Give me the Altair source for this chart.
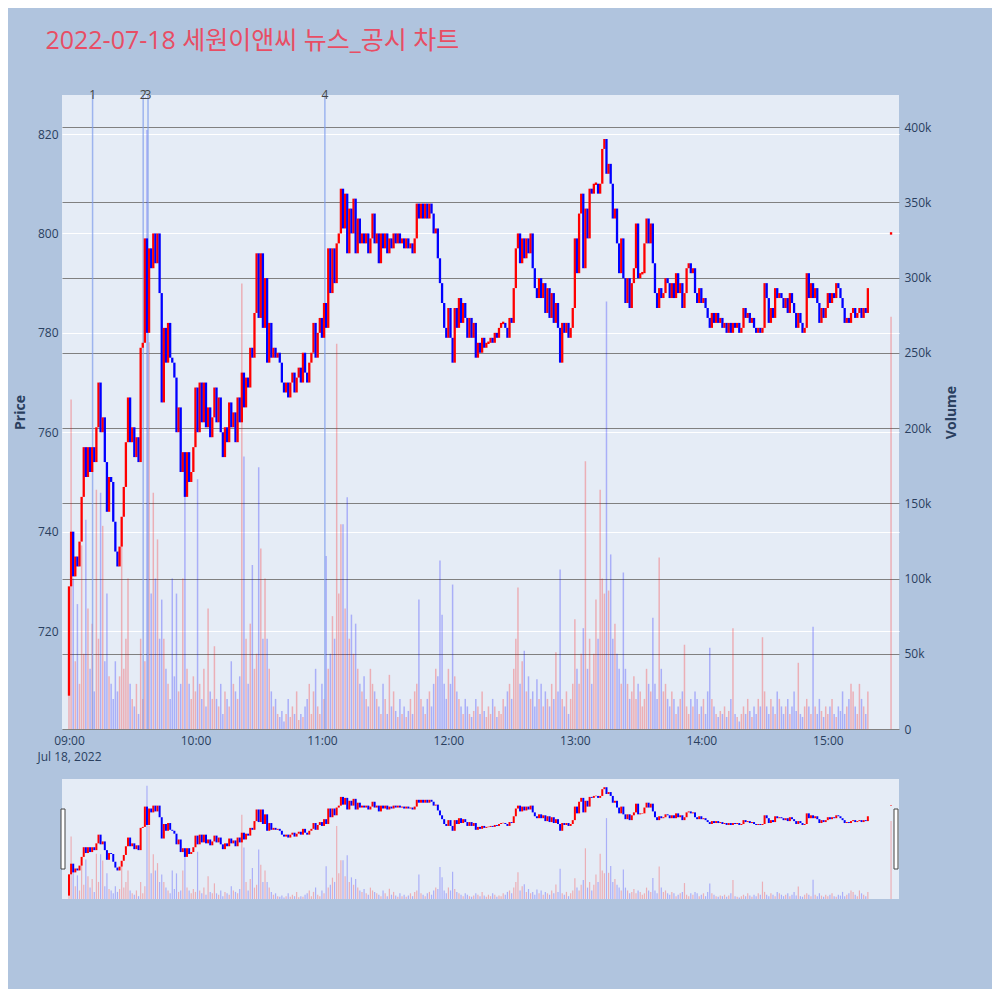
import altair as alt
import pandas as pd

# ---- data (1-minute candles from 09:00) ----
first_open = 707
closes = [
    729, 740, 731, 735, 733, 738, 747, 757, 751, 757,
    752, 757, 754, 761, 770, 760, 763, 754, 744, 751,
    750, 742, 736, 733, 737, 743, 749, 758, 767, 758,
    761, 755, 759, 754, 777, 778, 799, 780, 797, 793,
    800, 794, 800, 788, 766, 781, 774, 782, 775, 774,
    771, 760, 765, 752, 756, 747, 756, 750, 752, 757,
    769, 760, 770, 762, 770, 761, 765, 759, 763, 769,
    762, 767, 760, 755, 761, 758, 766, 761, 764, 758,
    767, 762, 772, 765, 771, 769, 777, 775, 784, 796,
    783, 796, 781, 791, 774, 782, 775, 777, 775, 776,
    774, 770, 768, 770, 767, 770, 772, 768, 771, 773,
    770, 776, 772, 770, 774, 776, 782, 775, 780, 783,
    779, 786, 781, 797, 788, 797, 790, 798, 800, 809,
    801, 808, 796, 805, 800, 807, 796, 803, 798, 800,
    798, 800, 796, 799, 804, 798, 800, 794, 800, 797,
    800, 796, 799, 797, 800, 798, 800, 798, 799, 797,
    799, 797, 798, 796, 799, 806, 803, 806, 803, 806,
    803, 806, 804, 800, 801, 795, 790, 786, 781, 779,
    785, 779, 774, 785, 781, 787, 782, 786, 783, 779,
    783, 779, 782, 775, 778, 776, 779, 777, 778, 778,
    779, 778, 780, 779, 781, 782, 782, 781, 779, 783,
    782, 789, 797, 800, 794, 799, 795, 799, 796, 800,
    793, 789, 787, 791, 787, 790, 784, 789, 783, 788,
    782, 786, 781, 774, 782, 780, 782, 779, 781, 785,
    799, 792, 804, 808, 793, 805, 799, 809, 808, 810,
    810, 808, 810, 817, 819, 812, 814, 810, 803, 805,
    798, 792, 799, 791, 786, 791, 785, 790, 793, 802,
    791, 792, 792, 798, 803, 798, 802, 794, 788, 785,
    789, 787, 788, 791, 790, 787, 790, 787, 792, 788,
    790, 785, 788, 793, 794, 792, 793, 788, 786, 789,
    786, 787, 785, 783, 781, 784, 782, 784, 782, 783,
    781, 782, 780, 782, 780, 782, 781, 782, 780, 781,
    785, 783, 784, 782, 783, 781, 780, 781, 780, 781,
    790, 787, 782, 785, 783, 789, 787, 788, 787, 785,
    787, 784, 788, 786, 784, 781, 784, 782, 780, 781,
    792, 787, 790, 787, 789, 786, 782, 785, 783, 785,
    788, 786, 788, 787, 790, 789, 787, 785, 782, 783,
    782, 784, 785, 783, 784, 785, 783, 785, 784, 789,
]
volumes_k = [
    60, 219, 100, 45, 83, 30, 122, 50, 139, 80,
    40, 70, 25, 159, 60, 157, 135, 45, 90, 35,
    30, 20, 45, 25, 35, 122, 40, 60, 100, 30,
    20, 15, 30, 10, 60, 20, 45, 398, 257, 90,
    157, 100, 126, 60, 86, 60, 40, 30, 20, 100,
    35, 90, 25, 30, 100, 172, 40, 30, 20, 35,
    25, 166, 30, 20, 40, 15, 80, 25, 20, 55,
    20, 15, 30, 10, 25, 20, 15, 45, 30, 25,
    20, 35, 296, 181, 60, 30, 70, 109, 40, 50,
    174, 120, 60, 100, 60, 40, 25, 15, 20, 10,
    8, 12, 5, 10, 20, 8, 15, 10, 25, 6,
    10, 8, 15, 20, 30, 10, 25, 40, 15, 10,
    30, 20, 115, 40, 50, 75, 60, 256, 90, 136,
    136, 80, 154, 60, 76, 50, 70, 40, 30, 25,
    35, 20, 15, 40, 30, 25, 20, 15, 10, 30,
    20, 10, 36, 15, 25, 12, 8, 20, 10, 15,
    8, 12, 20, 10, 25, 30, 86, 20, 15, 10,
    20, 25, 15, 30, 40, 35, 112, 76, 30, 20,
    40, 30, 96, 35, 25, 20, 15, 10, 20, 15,
    10, 8, 12, 20, 15, 10, 25, 12, 8, 15,
    10, 20, 15, 8, 12, 10, 20, 15, 25, 30,
    20, 40, 60, 94, 30, 45, 52, 25, 35, 20,
    25, 15, 33, 20, 30, 15, 25, 20, 15, 30,
    20, 51, 25, 106, 20, 15, 25, 10, 20, 30,
    73, 40, 30, 50, 67, 178, 40, 60, 30, 50,
    86, 60, 159, 100, 90, 284, 92, 116, 60, 70,
    50, 40, 30, 104, 40, 30, 20, 25, 35, 20,
    30, 25, 15, 20, 40, 30, 25, 74, 30, 20,
    114, 40, 25, 30, 20, 15, 25, 20, 10, 15,
    20, 25, 56, 15, 10, 20, 15, 25, 20, 10,
    15, 20, 10, 25, 54, 20, 15, 10, 8, 12,
    10, 15, 8, 12, 20, 67, 10, 8, 5, 10,
    15, 10, 20, 12, 8, 15, 10, 20, 15, 61,
    25, 15, 10, 20, 15, 10, 25, 20, 15, 10,
    15, 20, 10, 15, 25, 12, 44, 10, 8, 15,
    20, 15, 10, 68, 15, 10, 20, 12, 8, 15,
    10, 15, 20, 10, 8, 15, 12, 25, 10, 15,
    20, 30, 25, 15, 10, 30, 20, 15, 10, 25,
]
auction_minute = 390
auction_price = 800
auction_volume_k = 274

news_minutes = [11.2, 35.2, 37.5, 121.4]
news_labels = ["1", "2", "3", "4"]

price_ticks = [720, 740, 760, 780, 800, 820]
volume_ticks = [0, 50000, 100000, 150000, 200000, 250000, 300000, 350000, 400000]
time_ticks = [0, 60, 120, 180, 240, 300, 360]

TITLE = "2022-07-18 세원이앤씨 뉴스_공시 차트"

# ---- build table ----
minutes = list(range(len(closes))) + [auction_minute]
close_all = closes + [auction_price]
open_all = [first_open] + closes[:-1] + [auction_price]
vol_all = volumes_k + [auction_volume_k]
rows = []
for m, o, c, v in zip(minutes, open_all, close_all, vol_all):
    lo, hi = min(o, c), max(o, c)
    if hi - lo < 0.5:
        mid = (lo + hi) / 2
        lo, hi = mid - 0.25, mid + 0.25
    rows.append({"minute": m, "open": o, "close": c, "lo": lo, "hi": hi,
                 "volume": v * 1000, "dir": "up" if c >= o else "down"})
df = pd.DataFrame(rows)
news_df = pd.DataFrame({"minute": news_minutes, "label": news_labels})

FONT = "Open Sans, Noto Sans CJK KR, sans-serif"
TXT = "#2a3f5f"
W, H = 837, 634
x_dom = [-0.94, 391.4]
dir_color = alt.Scale(domain=["up", "down"], range=["#FF0000", "#0000FF"])

x_axis = alt.Axis(values=time_ticks, grid=False, domain=False, ticks=False,
                  labelExpr="datum.value == 0 ? ['09:00', 'Jul 18, 2022'] : (9 + datum.value / 60) + ':00'",
                  labelPadding=6, labelLineHeight=16, labelFlush=False, labelOverlap=False,
                  labelColor=TXT, labelFontSize=12, labelFont=FONT, title=None)
X = alt.X("minute:Q", scale=alt.Scale(domain=x_dom, nice=False, zero=False), axis=x_axis)

vol_layer = alt.Chart(df).mark_bar(width=1.5, opacity=0.26).encode(
    x=X,
    y=alt.Y("volume:Q", scale=alt.Scale(domain=[0, 421300], nice=False),
            axis=alt.Axis(orient="right", values=volume_ticks, title="Volume",
                          labelExpr="datum.value == 0 ? '0' : (datum.value / 1000) + 'k'",
                          grid=True, gridColor="#808080", gridWidth=1, domain=False, ticks=False,
                          labelPadding=5, titlePadding=28, titleAngle=270,
                          labelColor=TXT, labelFontSize=12, labelFont=FONT,
                          titleColor=TXT, titleFontSize=14, titleFont=FONT, titleFontWeight="bold")),
    color=alt.Color("dir:N", scale=dir_color, legend=None),
)

news_rules = alt.Chart(news_df).mark_rule(color="#7F9CEB", strokeWidth=1.5, opacity=0.7).encode(x=X)
news_text = alt.Chart(news_df).mark_text(fontSize=12, font=FONT, color="#444444", baseline="middle").encode(
    x=X, y=alt.value(0), text="label:N")

candle_layer = alt.Chart(df).mark_rule(strokeWidth=2.3).encode(
    x=X,
    y=alt.Y("lo:Q", scale=alt.Scale(domain=[700.3, 827.85], nice=False, zero=False),
            axis=alt.Axis(orient="left", values=price_ticks, title="Price",
                          grid=True, gridColor="#FFFFFF", gridWidth=1.2, domain=False, ticks=False,
                          labelPadding=4, titlePadding=10,
                          labelColor=TXT, labelFontSize=12, labelFont=FONT,
                          titleColor=TXT, titleFontSize=14, titleFont=FONT, titleFontWeight="bold")),
    y2="hi:Q",
    color=alt.Color("dir:N", scale=dir_color, legend=None),
)

main = alt.layer(vol_layer, news_rules, candle_layer, news_text).resolve_scale(
    y="independent").properties(width=W, height=H)

# ---- range slider ----
XS = alt.X("minute:Q", scale=alt.Scale(domain=x_dom, nice=False, zero=False), axis=None)
s_vol = alt.Chart(df).mark_bar(width=1.2, opacity=0.26).encode(
    x=XS, y=alt.Y("volume:Q", scale=alt.Scale(domain=[0, 421300], nice=False), axis=None),
    color=alt.Color("dir:N", scale=dir_color, legend=None))
s_candle = alt.Chart(df).mark_rule(strokeWidth=2).encode(
    x=XS, y=alt.Y("lo:Q", scale=alt.Scale(domain=[703.5, 827.5], nice=False, zero=False), axis=None),
    y2="hi:Q", color=alt.Color("dir:N", scale=dir_color, legend=None))
handle_df = pd.DataFrame({"side": ["left", "right"]})
h_left = alt.Chart(handle_df.iloc[[0]]).mark_rect(fill="white", stroke="#444444", strokeWidth=1).encode(
    x=alt.value(-1), x2=alt.value(3), y=alt.value(30), y2=alt.value(90))
h_right = alt.Chart(handle_df.iloc[[1]]).mark_rect(fill="white", stroke="#444444", strokeWidth=1).encode(
    x=alt.value(W - 5), x2=alt.value(W - 1), y=alt.value(30), y2=alt.value(90))
slider = alt.layer(s_vol, s_candle, h_left, h_right).resolve_scale(y="independent").properties(
    width=W, height=120)

chart = alt.vconcat(main, slider, spacing=17).properties(
    title=alt.TitleParams(text=TITLE, anchor="start", fontSize=25, font=FONT, fontWeight="normal",
                          color="#E84D64", offset=35, dx=32),
    background="#B0C4DE",
    padding={"left": 5, "top": 21, "right": 33, "bottom": 90},
).configure_view(fill="#E5ECF6", stroke=None)

chart.save("out.html", embed_options={"renderer": "svg", "actions": False})
